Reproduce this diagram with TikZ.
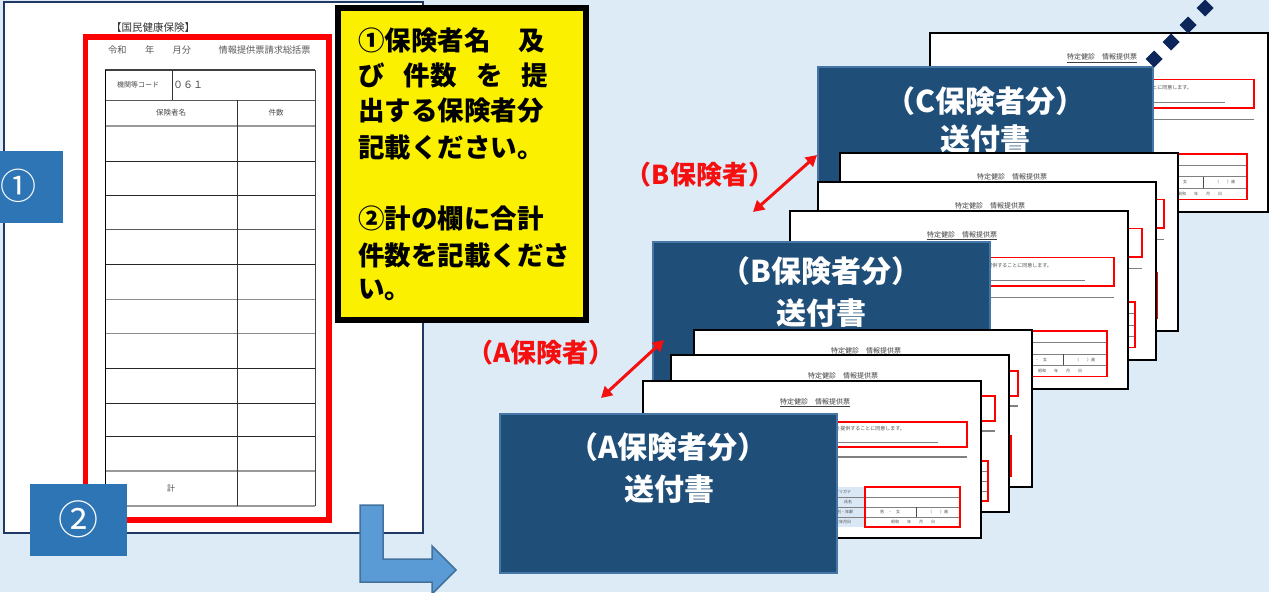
\documentclass[tikz,border=0pt]{standalone}
\usepackage{fontspec}
\newfontfamily\jp{Noto Sans CJK JP}
\usetikzlibrary{arrows.meta}
\definecolor{bgblue}{RGB}{221,235,247}
\definecolor{pagenavy}{RGB}{31,56,100}
\definecolor{blueone}{RGB}{46,117,182}
\definecolor{yellowc}{RGB}{250,240,0}
\definecolor{arrfill}{RGB}{91,155,213}
\definecolor{arrdraw}{RGB}{65,113,156}
\definecolor{navybox}{RGB}{31,78,121}
\definecolor{navyedge}{RGB}{70,118,165}
\definecolor{diam}{RGB}{12,38,92}
\definecolor{lblcell}{RGB}{218,231,245}
\definecolor{labred}{RGB}{245,15,15}
\newcommand\fsz[1]{\fontsize{#1pt}{#1pt}\selectfont}
\tikzset{
  navyrect/.style={fill=navybox, draw=navyedge, line width=2},
  boxtext/.style={text=white, font=\jp\bfseries\fsz{30}, inner sep=0},
  yeltext/.style={anchor=west, font=\jp\bfseries\fsz{26.5}, inner sep=0},
  redlab/.style={text=labred, font=\jp\bfseries\fsz{26}, inner sep=0},
  redarrow/.style={draw=labred, line width=3, {Triangle[length=11pt,width=12pt]}-{Triangle[length=11pt,width=12pt]}},
  tiny/.style={font=\jp\fsz{4}, text=black!70, inner sep=0},
  tbltext/.style={font=\jp\fsz{7.5}, text=black!70, inner sep=0},
}
\newcommand\docsheet[3]{%
\begin{scope}[shift={(#1,#2)}]
\begin{scope}[yscale=#3]
\fill[white] (0,0) rectangle (338,157);
\node[font=\jp\fsz{7}, text=black!75, inner sep=0] at (172,22) {\underline{特定健診　情報提供票}};
\node[anchor=east, font=\jp\fsz{5}, text=black!70, inner sep=0] at (262,48) {情報を提供することに同意します。};
\draw[gray, line width=1] (40,61) -- (295,61);
\draw[gray, line width=1.3] (20,76) -- (324,76);
\draw[red, line width=1.5] (150,41) rectangle (324,66);
\fill[lblcell] (160,106) rectangle (222,146);
\foreach \yy in {116,126,136} \draw[gray, line width=0.6] (160,\yy) -- (317,\yy);
\draw[gray!60!black, line width=0.8] (273,126) -- (273,136);
\node[tiny] at (200,111) {フリガナ};
\node[tiny] at (205,121) {氏名};
\node[tiny] at (200,131) {性別・年齢};
\node[tiny] at (200,141) {生年月日};
\node[tiny] at (247,131) {男　・　女};
\node[tiny] at (295,131) {（　　）歳};
\node[tiny] at (270,141) {昭和　　年　　月　　日};
\draw[red, line width=1.5] (222,106) rectangle (317,146);
\draw[black, line width=2] (0,0) rectangle (338,157);
\end{scope}
\end{scope}}
\begin{document}
\begin{tikzpicture}[x=1pt,y=-1pt]
\useasboundingbox (0,0) rectangle (1269,592);
\fill[bgblue] (0,0) rectangle (1269,592);
% ---------- left page ----------
\draw[pagenavy, fill=white, line width=1.5] (4,2) rectangle (423,533);
\node[font=\jp\fsz{10.5}, text=black!80, inner sep=0] (ttl) at (153,28) {【国民健康保険】};
\node[font=\jp\fsz{9.2}, text=black!65, anchor=west, inner sep=0] (hdr) at (108,50) {令和　　年　　月分　　　情報提供票請求総括票};
% table
\foreach \yy in {161,195,264,368,403,436} \draw[black!85, line width=0.9] (105,\yy) -- (315,\yy);
\foreach \yy in {100,229} \draw[black!65, line width=1] (105,\yy) -- (315,\yy);
\foreach \yy in {299,333} \draw[black!45, line width=1] (105,\yy) -- (315,\yy);
\foreach \yy in {126,471,506} \draw[black!40, line width=1.6] (105,\yy) -- (315,\yy);
\draw[black!75, line width=1.2] (105,70) -- (315,70);
\draw[black, line width=1] (105,70) -- (105,506);
\draw[black!75, line width=1] (315,70) -- (315,506);
\draw[black!80, line width=0.9] (172,70) -- (172,100);
\draw[black!80, line width=0.9] (237,100) -- (237,506);
\node[tbltext, font=\jp\fsz{7}] (kikan) at (138,85) {機関等コード};
\node[font=\jp\fsz{10}, text=black!70, anchor=west, inner sep=0] (code) at (173,85) {０６１};
\node[tbltext] (hname) at (171,113) {保険者名};
\node[tbltext] (hcount) at (276,113) {件数};
\node[tbltext, font=\jp\fsz{8}] (kei) at (171,488) {計};
\draw[red, line width=5.5] (85.5,37) rectangle (329,520);
% ---------- number boxes ----------
\fill[blueone] (0,151) rectangle (63,223);
\node[text=white, font=\jp\fsz{36}, inner sep=0] (n1) at (19,186) {①};
\fill[blueone] (30,484) rectangle (127,556);
\node[text=white, font=\jp\fsz{40}, inner sep=0] (n2) at (78,519) {②};
% ---------- yellow note ----------
\draw[black, line width=6, fill=yellowc] (338,8) rectangle (586,320);
\node[yeltext] (y1) at (358,40) {\makebox[187pt][l]{①保険者名\hfill 及}};
\node[yeltext] (y2) at (358,75) {\makebox[190pt][l]{び\hfill 件数\hfill を\hfill 提}};
\node[yeltext] (y3) at (358,111) {出する保険者分};
\node[yeltext] (y4) at (358,147) {記載ください。};
\node[yeltext] (y5) at (358,218) {②計の欄に合計};
\node[yeltext] (y6) at (358,255) {件数を記載くださ};
\node[yeltext] (y7) at (358,290) {い。};
% ---------- bent arrow ----------
\draw[fill=arrfill, draw=arrdraw, line width=1.5]
  (360,505) -- (383,505) -- (383,559) -- (432,559) -- (432,546) -- (456,570)
  -- (432,594) -- (432,582) -- (360,582) -- cycle;
% ---------- C group ----------
\docsheet{930}{33}{1.14}
\draw[navyrect] (818,67) rectangle (1153,240);
\node[boxtext] (ctext) at (985,101) {（C保険者分）};
\node[boxtext] (csend) at (985,139) {送付書};
\foreach \cx/\cy in {1154/59,1171/42,1188/25,1205/8}
  \fill[diam] (\cx-8.5,\cy) -- (\cx,\cy-8.5) -- (\cx+8.5,\cy) -- (\cx,\cy+8.5) -- cycle;
% ---------- B group ----------
\docsheet{840}{153}{1.134}
\docsheet{818}{182}{1.134}
\docsheet{790}{211}{1.134}
\draw[navyrect] (653,242) rectangle (990,400);
\node[boxtext] (btext) at (821,271) {（B保険者分）};
\node[boxtext] (bsend) at (821,313) {送付書};
% ---------- A group ----------
\docsheet{694}{330}{1}
\docsheet{671}{355}{1}
\docsheet{643}{381}{1}
\draw[navyrect] (500,414) rectangle (837,573);
\node[boxtext] (atext) at (668,447) {（A保険者分）};
\node[boxtext] (asend) at (669,489) {送付書};
% ---------- red labels and arrows ----------
\node[redlab] (blab) at (700,175) {（B保険者）};
\node[redlab] (alab) at (541,353) {（A保険者）};
\coordinate (b1) at (753,212);
\coordinate (b2) at (817,155);
\coordinate (a1) at (601,398);
\coordinate (a2) at (664,340);
\draw[redarrow] (b1) -- (b2);
\draw[redarrow] (a1) -- (a2);
\end{tikzpicture}
\end{document}
